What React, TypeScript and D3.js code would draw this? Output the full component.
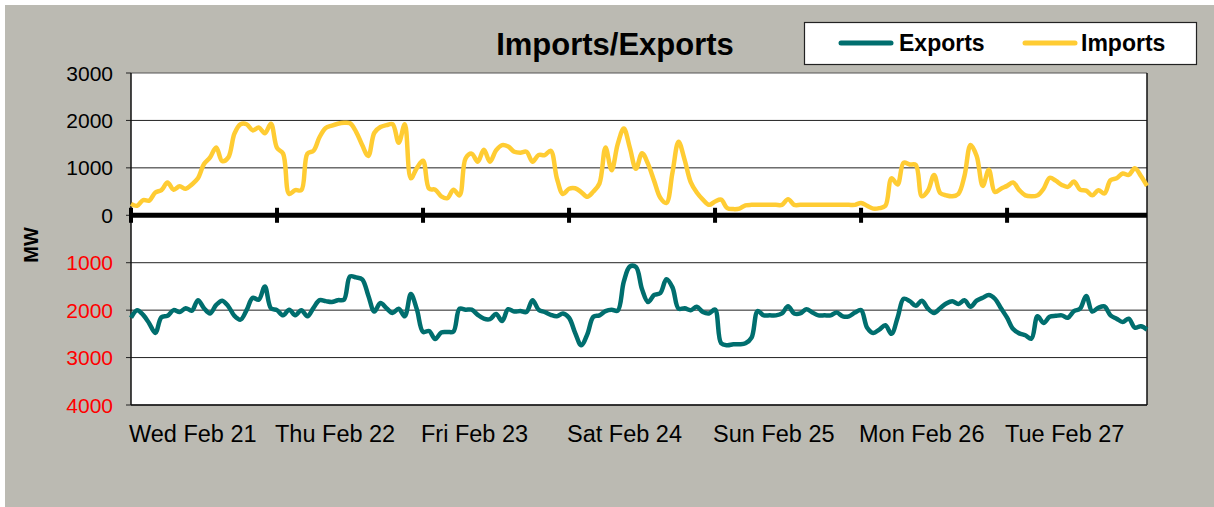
import React from "react";
import { scaleLinear, line, curveCatmullRom } from "d3";

// hourly MW readings, Wed Feb 21 00:00 .. Tue Feb 27 23:00
const imports = [
  240, 200, 320, 310, 480, 530, 690, 540, 610, 560, 650, 780, 1080, 1220, 1430, 1140, 1220, 1720, 1920, 1920, 1790, 1850, 1730, 1930,
  1420, 1300, 450, 530, 530, 1300, 1360, 1650, 1840, 1890, 1930, 1950, 1940, 1760, 1480, 1250, 1740, 1860, 1900, 1920, 1530, 1920, 780, 1000,
  1150, 560, 540, 400, 360, 540, 420, 1200, 1300, 1130, 1380, 1130, 1370, 1480, 1450, 1340, 1320, 1340, 1130, 1270, 1270, 1360, 780, 450,
  560, 570, 490, 390, 500, 670, 1430, 950, 1500, 1830, 1420, 980, 1310, 1080, 720, 370, 260, 900, 1550, 1170, 700, 480, 330, 220,
  290, 330, 150, 130, 140, 210, 220, 220, 220, 220, 220, 220, 340, 220, 220, 220, 220, 220, 220, 220, 220, 220, 220, 220,
  260, 200, 140, 150, 200, 780, 650, 1110, 1070, 1060, 400, 520, 850, 470, 420, 400, 450, 830, 1480, 1250, 620, 960, 490, 560,
  620, 690, 530, 420, 400, 420, 560, 790, 730, 640, 600, 710, 540, 520, 420, 530, 460, 740, 780, 880, 850, 990, 830, 620,
];

const exports_ = [
  2160, 2000, 2100, 2280, 2480, 2150, 2120, 2000, 2040, 1960, 2010, 1790, 1960, 2070, 1890, 1800, 1920, 2120, 2200, 2000, 1740, 1780, 1500, 1960,
  2000, 2110, 1990, 2110, 2000, 2130, 1950, 1790, 1810, 1830, 1790, 1780, 1290, 1310, 1350, 1690, 2030, 1850, 1960, 2060, 1970, 2130, 1660, 1990,
  2460, 2440, 2610, 2470, 2460, 2450, 1970, 1990, 1990, 2100, 2180, 2190, 2080, 2230, 1980, 2030, 2020, 2040, 1790, 1990, 2040, 2100, 2130, 2070,
  2160, 2480, 2740, 2510, 2140, 2110, 2020, 1990, 2010, 1400, 1080, 1090, 1560, 1830, 1680, 1640, 1350, 1520, 1970, 1960, 2000, 1930, 2040, 2070,
  1990, 2700, 2740, 2720, 2720, 2700, 2580, 2020, 2110, 2110, 2110, 2070, 1920, 2070, 2070, 1980, 2050, 2110, 2110, 2110, 2050, 2130, 2130, 2050,
  2000, 2370, 2480, 2410, 2320, 2500, 2160, 1760, 1810, 1910, 1800, 1970, 2060, 1960, 1860, 1810, 1870, 1790, 1930, 1800, 1740, 1680, 1760, 1960,
  2160, 2400, 2490, 2530, 2600, 2130, 2270, 2140, 2120, 2110, 2160, 2020, 1970, 1700, 2030, 1950, 1920, 2110, 2180, 2250, 2180, 2370, 2340, 2410,
];

const days = ["Wed Feb 21", "Thu Feb 22", "Fri Feb 23", "Sat Feb 24", "Sun Feb 25", "Mon Feb 26", "Tue Feb 27"];
// signed: positive = imports side, negative = exports side
const yTicks = [3000, 2000, 1000, 0, -1000, -2000, -3000, -4000];

const W = 1214;
const H = 507;
const left = 131;
const right = 1147;
const top = 73;
const bottom = 405;

const IMP = "#ffcc33";
const EXP = "#006e6e";

export default function App() {
  const x = scaleLinear().domain([0, imports.length - 1]).range([left, right]);
  const y = scaleLinear().domain([-4000, 3000]).range([bottom, top]);

  const path = line<number>()
    .x((_, i) => x(i))
    .y((d) => y(d))
    .curve(curveCatmullRom.alpha(0.5));

  const impPath = path(imports) ?? "";
  const expPath = path(exports_.map((v) => -v)) ?? "";

  return (
    <svg
      width={W}
      height={H}
      style={{ position: "absolute", left: 0, top: 0, fontFamily: "'Liberation Sans', Arial, sans-serif" }}
    >
      <rect x={0} y={0} width={W} height={H} fill="#ffffff" />
      <rect x={5} y={5} width={W - 5} height={H - 5} fill="#bbbab2" />

      {/* plot area */}
      <rect x={left} y={top} width={right - left} height={bottom - top} fill="#ffffff" />
      {yTicks.map((t) => (
        <g key={t}>
          {t !== 0 && (
            <line x1={left} x2={right} y1={y(t)} y2={y(t)} stroke={t === 3000 || t === -4000 ? "#555" : "#222"} strokeWidth={1} />
          )}
          <line x1={left - 5} x2={left} y1={y(t)} y2={y(t)} stroke="#222" strokeWidth={1} />
          <text
            x={113}
            y={y(t)}
            dy="0.36em"
            textAnchor="end"
            fontSize={21}
            fill={t < 0 ? "#ff0000" : "#000"}
          >
            {Math.abs(t)}
          </text>
        </g>
      ))}
      <line x1={left} x2={left} y1={top} y2={bottom} stroke="#111" strokeWidth={1.5} />
      <line x1={right} x2={right} y1={top} y2={bottom} stroke="#111" strokeWidth={1.5} />
      <line x1={left} x2={right} y1={bottom} y2={bottom} stroke="#111" strokeWidth={1.5} />

      {/* series */}
      <path d={impPath} fill="none" stroke={IMP} strokeWidth={4.5} strokeLinejoin="round" />
      <path d={expPath} fill="none" stroke={EXP} strokeWidth={4.5} strokeLinejoin="round" />

      {/* zero axis with day ticks */}
      <line x1={left} x2={right} y1={y(0)} y2={y(0)} stroke="#000" strokeWidth={5} />
      {days.map((d, i) => (
        <g key={d}>
          <rect x={x(i * 24) - 2} y={y(0) - 7.5} width={4} height={15} fill="#000" />
          <text x={x(i * 24) - 2} y={442} fontSize={23.5} fill="#000">
            {d}
          </text>
        </g>
      ))}

      {/* axis title */}
      <text transform={`translate(38,245) rotate(-90)`} textAnchor="middle" fontSize={20} fontWeight="bold">
        MW
      </text>

      {/* title */}
      <text x={615} y={55} textAnchor="middle" fontSize={31} fontWeight="bold">
        Imports/Exports
      </text>

      {/* legend */}
      <rect x={804.5} y={22.5} width={392} height={42} fill="#fff" stroke="#222" strokeWidth={1.2} />
      <line x1={841} x2={891} y1={43} y2={43} stroke={EXP} strokeWidth={5} strokeLinecap="round" />
      <text x={899} y={51} fontSize={23} fontWeight="bold">
        Exports
      </text>
      <line x1={1025} x2={1075} y1={43} y2={43} stroke={IMP} strokeWidth={5} strokeLinecap="round" />
      <text x={1081} y={51} fontSize={23} fontWeight="bold">
        Imports
      </text>
    </svg>
  );
}
